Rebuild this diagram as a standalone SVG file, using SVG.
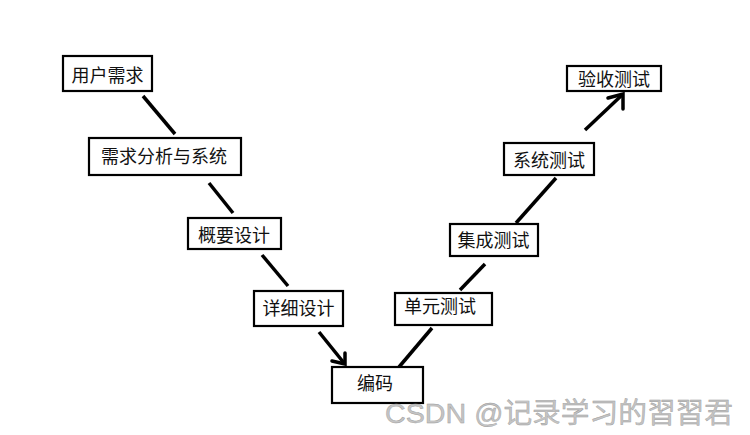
<svg xmlns="http://www.w3.org/2000/svg" width="750" height="435" viewBox="0 0 750 435">
<style>
.box{fill:#fff;stroke:#000;stroke-width:2.2}
.lbl{font-family:"Noto Sans CJK SC","Liberation Sans",sans-serif;font-size:18px;fill:#111;text-anchor:middle}
.ln{stroke:#000;stroke-width:3.5;fill:none;stroke-linecap:butt}
.ah{stroke:#000;stroke-width:3.5;fill:none;stroke-linecap:round;stroke-linejoin:miter}
.wm{font-family:"Liberation Sans","Noto Sans CJK SC",sans-serif;font-size:28px;fill:#c4c4c4;stroke:#9a9a9a;stroke-width:0.4}
</style>
<rect width="750" height="435" fill="#fff"/>
<g id="connectors">
<line class="ln" x1="143" y1="96" x2="175" y2="134"/>
<line class="ln" x1="209" y1="183" x2="233" y2="213"/>
<line class="ln" x1="262" y1="255" x2="288" y2="286"/>
<line class="ln" x1="319" y1="332" x2="344" y2="363"/>
<polyline class="ah" points="332,361 345,364 345,353"/>
<line class="ln" x1="399" y1="367" x2="432" y2="328"/>
<line class="ln" x1="460" y1="290" x2="485" y2="264"/>
<line class="ln" x1="516" y1="223" x2="556" y2="178"/>
<line class="ln" x1="585" y1="130" x2="622" y2="95"/>
<polyline class="ah" points="608,98 623,94 623,109"/>
</g>
<g id="n1"><rect class="box" x="63" y="56" width="89" height="35"/><text class="lbl" x="107.5" y="82">用户需求</text></g>
<g id="n2"><rect class="box" x="89" y="138" width="152" height="37"/><text class="lbl" x="164" y="163">需求分析与系统</text></g>
<g id="n3"><rect class="box" x="188" y="218" width="93" height="31"/><text class="lbl" x="234" y="241.5">概要设计</text></g>
<g id="n4"><rect class="box" x="254" y="291" width="89" height="35"/><text class="lbl" x="298.5" y="315">详细设计</text></g>
<g id="n5"><rect class="box" x="332" y="367" width="91" height="36"/><text class="lbl" x="375" y="390">编码</text></g>
<g id="n6"><rect class="box" x="395" y="293" width="97" height="32"/><text class="lbl" x="440" y="313">单元测试</text></g>
<g id="n7"><rect class="box" x="450" y="224" width="88" height="32"/><text class="lbl" x="493.5" y="246.5">集成测试</text></g>
<g id="n8"><rect class="box" x="504" y="143" width="90" height="32"/><text class="lbl" x="549" y="166.5">系统测试</text></g>
<g id="n9"><rect class="box" x="567" y="66" width="94" height="25"/><text class="lbl" x="614" y="86">验收测试</text></g>
<text class="wm" x="385" y="423" textLength="348" lengthAdjust="spacingAndGlyphs">CSDN @记录学习的習習君</text>
</svg>
